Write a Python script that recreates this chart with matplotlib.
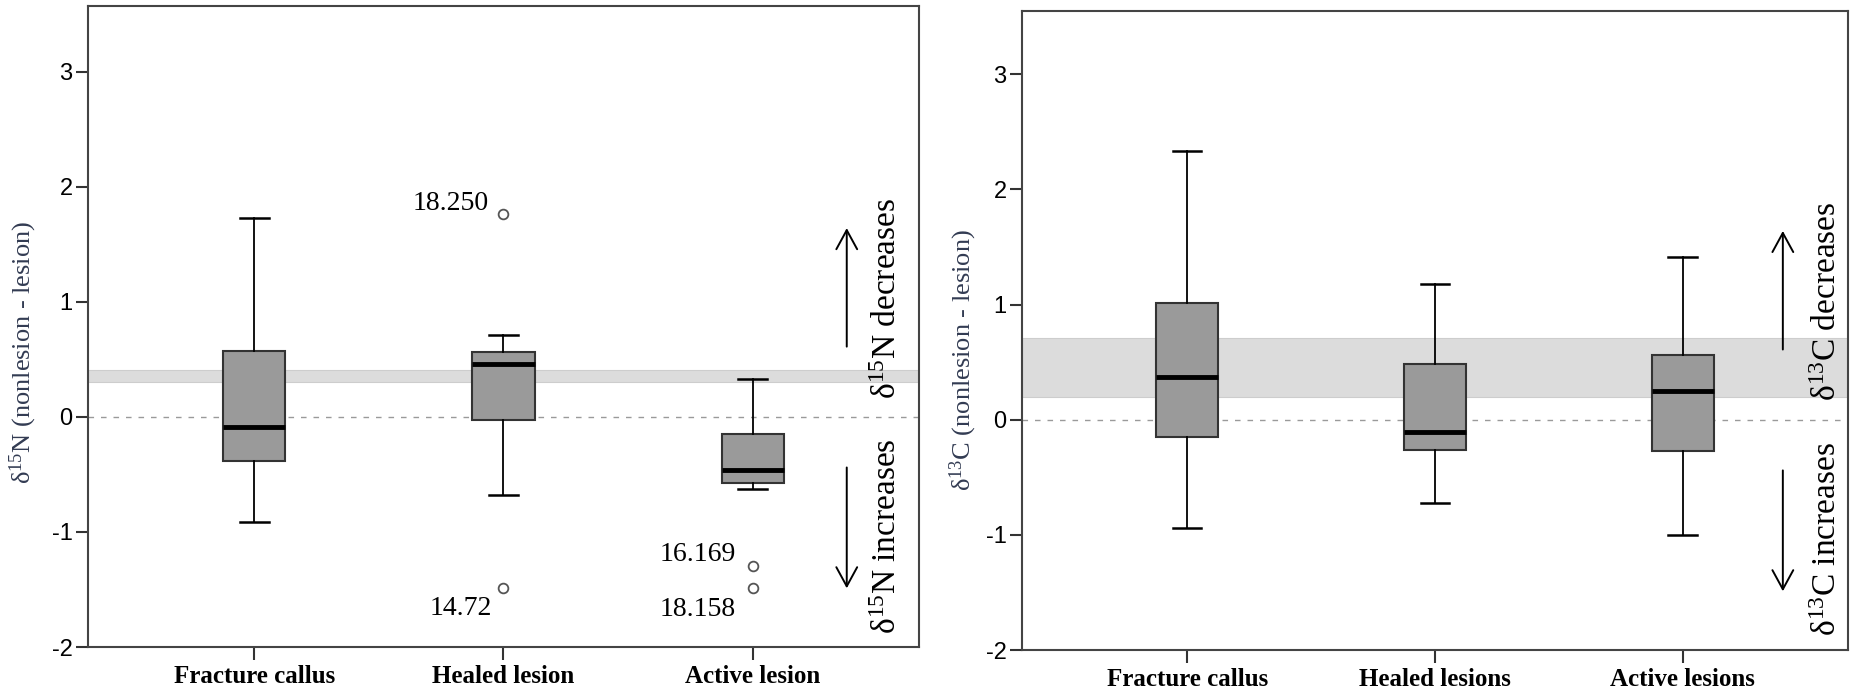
import matplotlib
matplotlib.use("Agg")
import matplotlib.pyplot as plt

plt.rcParams["mathtext.fontset"] = "custom"
plt.rcParams["mathtext.rm"] = "Liberation Serif"
plt.rcParams["mathtext.it"] = "Liberation Serif:italic"
plt.rcParams["mathtext.bf"] = "Liberation Serif:bold"

# ---- nitrogen panel ----
n_categories = ["Fracture callus", "Healed lesion", "Active lesion"]
n_whislo = [-0.915, -0.68, -0.628]
n_q1 = [-0.385, -0.027, -0.578]
n_med = [-0.085, 0.458, -0.462]
n_q3 = [0.570, 0.565, -0.147]
n_whishi = [1.730, 0.715, 0.328]
n_fliers = [[], [1.76, -1.49], [-1.30, -1.485]]
n_flier_labels = [[], ["18.250", "14.72"], ["16.169", "18.158"]]
n_band = (0.30, 0.41)

# ---- carbon panel ----
c_categories = ["Fracture callus", "Healed lesions", "Active lesions"]
c_whislo = [-0.938, -0.727, -1.000]
c_q1 = [-0.154, -0.265, -0.273]
c_med = [0.369, -0.110, 0.246]
c_q3 = [1.013, 0.480, 0.560]
c_whishi = [2.338, 1.180, 1.415]
c_fliers = [[], [], []]
c_band = (0.196, 0.706)

y_ticks = [-2, -1, 0, 1, 2, 3]

SERIF = "Liberation Serif"
LABEL_COLOR = "#323b52"

fig = plt.figure(figsize=(18.52, 6.94), dpi=100)
ax_n = fig.add_axes([0.0475, 0.0677, 0.4487, 0.9237])
ax_c = fig.add_axes([0.5518, 0.0634, 0.4460, 0.9207])


def draw_panel(ax, cats, whislo, q1, med, q3, whishi, fliers, band, ylim_top):
    stats = []
    for i, name in enumerate(cats):
        stats.append(dict(label=name, whislo=whislo[i], q1=q1[i], med=med[i],
                          q3=q3[i], whishi=whishi[i], fliers=fliers[i]))
    ax.axhspan(band[0], band[1], facecolor="#dcdcdc", edgecolor="#cdcdcd",
               lw=0.8, zorder=0)
    ax.axhline(0, color="#9a9a9a", lw=1.0, ls=(0, (4, 5)), zorder=1)
    ax.bxp(stats, positions=[1, 2, 3], widths=0.25, capwidths=0.115,
           patch_artist=True,
           boxprops=dict(facecolor="#9a9a9a", edgecolor="#333333", lw=1.5),
           medianprops=dict(color="black", lw=3.5),
           whiskerprops=dict(color="black", lw=1.3),
           capprops=dict(color="black", lw=1.8),
           flierprops=dict(marker="o", markersize=7, markerfacecolor="none",
                           markeredgecolor="#555555", markeredgewidth=1.3),
           zorder=3)
    ax.set_xlim(1 / 3, 3 + 2 / 3)
    ax.set_ylim(-2, ylim_top)
    ax.set_yticks(y_ticks)
    ax.set_yticklabels([str(t) for t in y_ticks], fontfamily="Liberation Sans",
                       fontsize=17)
    ax.set_xticks([1, 2, 3])
    ax.set_xticklabels(cats, fontfamily=SERIF, fontweight="bold", fontsize=18)
    ax.tick_params(axis="both", direction="out", length=9, width=1.5,
                   color="#333333")
    ax.tick_params(axis="y", pad=2)
    ax.tick_params(axis="x", pad=4)
    for s in ax.spines.values():
        s.set_color("#444444")
        s.set_linewidth(1.5)


draw_panel(ax_n, n_categories, n_whislo, n_q1, n_med, n_q3, n_whishi,
           n_fliers, n_band, 3.57)
draw_panel(ax_c, c_categories, c_whislo, c_q1, c_med, c_q3, c_whishi,
           c_fliers, c_band, 3.55)

# outlier labels
label_offsets = {"18.250": (-15, 4), "14.72": (-11, -27),
                 "16.169": (-17, 5), "18.158": (-17, -28)}
for i, (vals, labs) in enumerate(zip(n_fliers, n_flier_labels)):
    for v, lab in zip(vals, labs):
        ax_n.annotate(lab, xy=(i + 1, v), xytext=label_offsets[lab],
                      textcoords="offset pixels", ha="right", va="baseline",
                      fontfamily=SERIF, fontsize=20)

# axis titles
ax_n.set_ylabel(r"δ$^{\mathrm{15}}$N (nonlesion - lesion)", fontfamily=SERIF,
                fontsize=19, color=LABEL_COLOR)
ax_n.yaxis.set_label_coords(-0.059, 0.459)
ax_c.set_ylabel(r"δ$^{\mathrm{13}}$C (nonlesion - lesion)", fontfamily=SERIF,
                fontsize=19, color=LABEL_COLOR)
ax_c.yaxis.set_label_coords(-0.052, 0.454)


def direction_notes(ax, iso, x_text, x_arrow):
    ax.text(x_text, 1.03, iso + " decreases", rotation=90, ha="center",
            va="center", fontfamily=SERIF, fontsize=24)
    ax.text(x_text, -1.04, iso + " increases", rotation=90, ha="center",
            va="center", fontfamily=SERIF, fontsize=24)
    style = dict(arrowstyle="->,head_length=0.55,head_width=0.3", lw=1.4,
                 color="black", mutation_scale=25, shrinkA=0, shrinkB=0)
    ax.annotate("", xy=(x_arrow, 1.64), xytext=(x_arrow, 0.61),
                arrowprops=style)
    ax.annotate("", xy=(x_arrow, -1.49), xytext=(x_arrow, -0.44),
                arrowprops=style)


direction_notes(ax_n, r"δ$^{\mathrm{15}}$N", 3.54, 3.377)
direction_notes(ax_c, r"δ$^{\mathrm{13}}$C", 3.586, 3.404)

fig.savefig("out.png", dpi=100)
